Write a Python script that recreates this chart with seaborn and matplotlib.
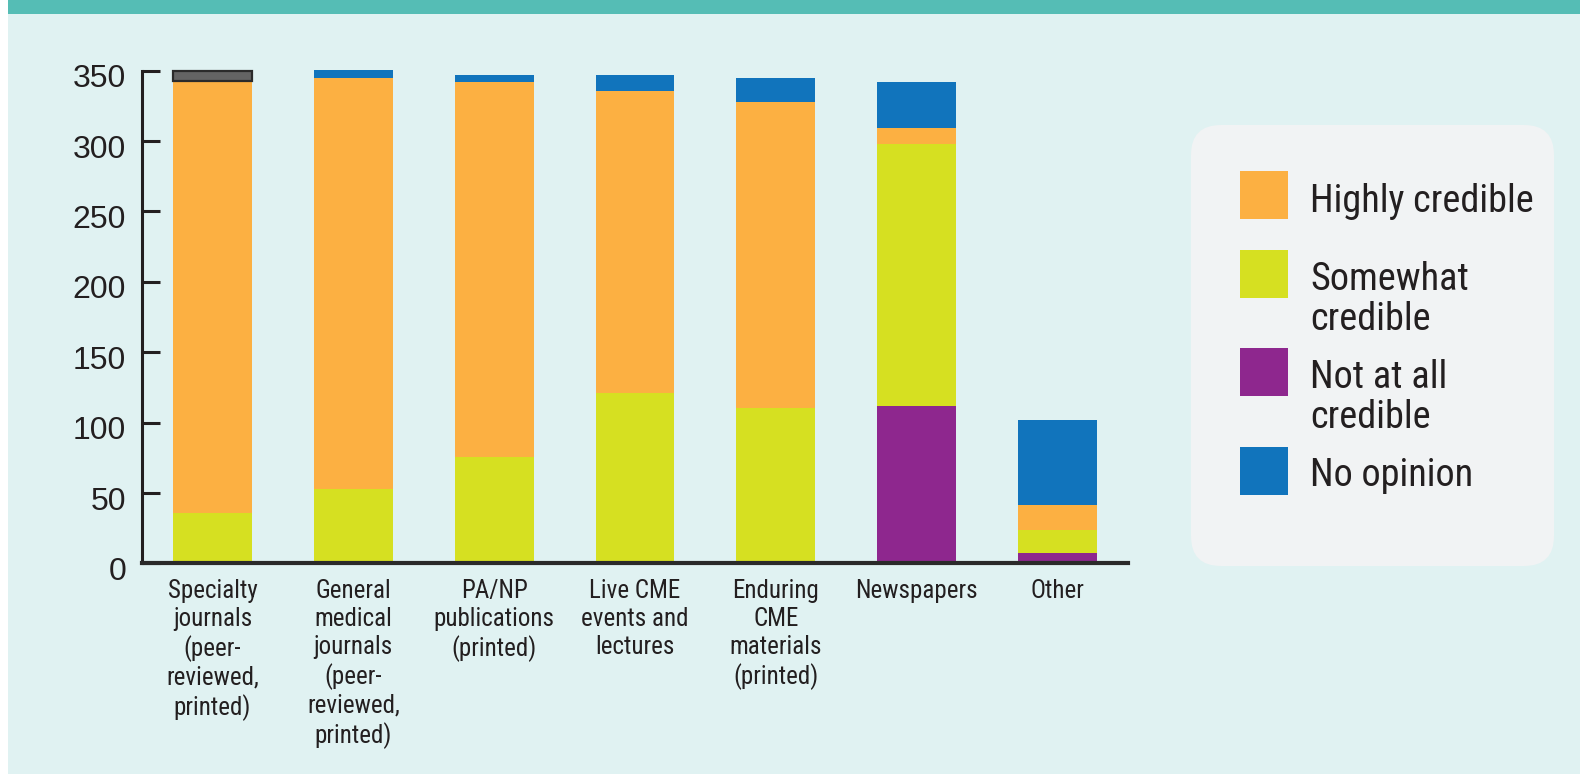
import numpy as np
import pandas as pd
import matplotlib
matplotlib.use("Agg")
import matplotlib.pyplot as plt
import matplotlib.transforms as mtransforms
import seaborn as sns
from matplotlib.patches import Rectangle, FancyBboxPatch
from matplotlib import font_manager

# ---------------- data ----------------
categories = [
    "Specialty\njournals\n(peer-\nreviewed,\nprinted)",
    "General\nmedical\njournals\n(peer-\nreviewed,\nprinted)",
    "PA/NP\npublications\n(printed)",
    "Live CME\nevents and\nlectures",
    "Enduring\nCME\nmaterials\n(printed)",
    "Newspapers",
    "Other",
]
not_at_all = [0.0, 0.0, 1.2, 0.0, 1.9, 111.8, 7.4]
somewhat = [35.8, 52.9, 74.4, 121.0, 108.5, 186.2, 16.3]
highly = [307.0, 292.0, 266.4, 214.7, 217.4, 11.3, 17.8]
no_opinion = [7.1, 5.7, 5.0, 11.3, 16.8, 32.7, 60.4]
legend_labels = ["Highly credible", "Somewhat\ncredible", "Not at all\ncredible", "No opinion"]
yticks = [0, 50, 100, 150, 200, 250, 300, 350]

# ---------------- style ----------------
C_ORANGE = "#FCB042"
C_GREEN = "#D6E021"
C_PURPLE = "#8E278E"
C_BLUE = "#1174BC"
C_TEXT = "#231F20"
BG = "#E0F2F2"
BAND = "#55BDB5"

sns.set_theme(style="white")
plt.rcParams["font.family"] = ["Liberation Sans", "DejaVu Sans"]

# choose a condensed face if one is installed, otherwise a regular one at a size matching widths
_names = {f.name for f in font_manager.fontManager.ttflist}
if "Roboto Condensed" in _names:
    NARROW = ["Roboto Condensed", "DejaVu Sans"]
    XL_SIZE, XL_LS, LG_SIZE, LG_LS = 18, 1.2, 27.5, 1.1
elif "Liberation Sans Narrow" in _names:
    NARROW = ["Liberation Sans Narrow", "DejaVu Sans"]
    XL_SIZE, XL_LS, LG_SIZE, LG_LS = 18, 1.2, 28.5, 1.08
else:
    NARROW = ["Liberation Sans", "DejaVu Sans"]
    XL_SIZE, XL_LS, LG_SIZE, LG_LS = 16, 1.42, 24.5, 1.3

W, H = 1580, 774
fig = plt.figure(figsize=(W / 100, H / 100), dpi=100)
fig.patch.set_facecolor("white")
fig.patches.append(Rectangle((8 / W, 0), 1 - 8 / W, 1 - 14 / H, transform=fig.transFigure,
                             facecolor=BG, edgecolor="none", zorder=-10))
fig.patches.append(Rectangle((8 / W, 1 - 14 / H), 1 - 8 / W, 14 / H, transform=fig.transFigure,
                             facecolor=BAND, edgecolor="none", zorder=-10))

ax = fig.add_axes([142 / W, (H - 563.4) / H, 986 / W, (563.4 - 70.7) / H])
ax.set_facecolor("none")

layers = [(not_at_all, C_PURPLE), (somewhat, C_GREEN), (highly, C_ORANGE), (no_opinion, C_BLUE)]
bottom = np.zeros(len(categories))
for vals, col in layers:
    df = pd.DataFrame({"source": categories, "value": vals})
    sns.barplot(data=df, x="source", y="value", color=col, saturation=1, width=0.56,
                bottom=bottom.copy(), linewidth=0, edgecolor="none", ax=ax, zorder=2)
    bottom += np.array(vals)

# top segment of first bar rendered in grey in the original
top_first = ax.containers[-1].patches[0]
top_first.set_facecolor("#646464")
top_first.set_edgecolor("#2B2B2B")
top_first.set_linewidth(1.6)

for p in ax.patches:
    p.set_clip_on(False)

ax.set_xlim(-0.5, 6.5)
ax.set_ylim(0, 350)
ax.set_yticks(yticks)
ax.set_xlabel("")
ax.set_ylabel("")

for s in ["top", "right"]:
    ax.spines[s].set_visible(False)
ax.spines["left"].set_linewidth(2.2)
ax.spines["left"].set_color(C_TEXT)
ax.spines["left"].set_bounds(0, 350)
ax.spines["bottom"].set_linewidth(3.0)
ax.spines["bottom"].set_color("#2A2A2A")
ax.spines["bottom"].set_zorder(3)

ax.tick_params(axis="y", direction="in", length=13, width=2.2, color=C_TEXT,
               pad=11.5, labelsize=23, labelcolor=C_TEXT, left=True)
# y labels sit slightly below their ticks in the original
_shift = mtransforms.ScaledTranslation(0, -5 / 100, fig.dpi_scale_trans)
for lab in ax.get_yticklabels():
    lab.set_transform(lab.get_transform() + _shift)

ax.tick_params(axis="x", length=0, pad=11.5, labelcolor=C_TEXT)
for lab in ax.get_xticklabels():
    lab.set_fontfamily(NARROW)
    lab.set_fontsize(XL_SIZE)
    lab.set_linespacing(XL_LS)
    lab.set_ha("center")
    lab.set_multialignment("center")

# ---------------- legend (custom box) ----------------
tr = fig.dpi_scale_trans
box = FancyBboxPatch((1191 / 100, (H - 566) / 100), (1554 - 1191) / 100, (566 - 125) / 100,
                     boxstyle="round,pad=0,rounding_size=0.3", transform=tr,
                     facecolor="#F1F3F4", edgecolor="none", zorder=-5)
fig.patches.append(box)
leg_colors = [C_ORANGE, C_GREEN, C_PURPLE, C_BLUE]
patch_tops = [171, 250, 348, 447]
text_tops = [183, 261, 359, 457]
for lab, col, pt, tt in zip(legend_labels, leg_colors, patch_tops, text_tops):
    fig.patches.append(Rectangle((1240 / 100, (H - pt - 48) / 100), 0.48, 0.48, transform=tr,
                                 facecolor=col, edgecolor="none", zorder=-4))
    fig.text(1310 / 100, (H - tt) / 100, lab, transform=tr, ha="left", va="top",
             fontsize=LG_SIZE, family=NARROW, color=C_TEXT, linespacing=LG_LS)

fig.savefig("out.png", dpi=100, facecolor=fig.get_facecolor())
